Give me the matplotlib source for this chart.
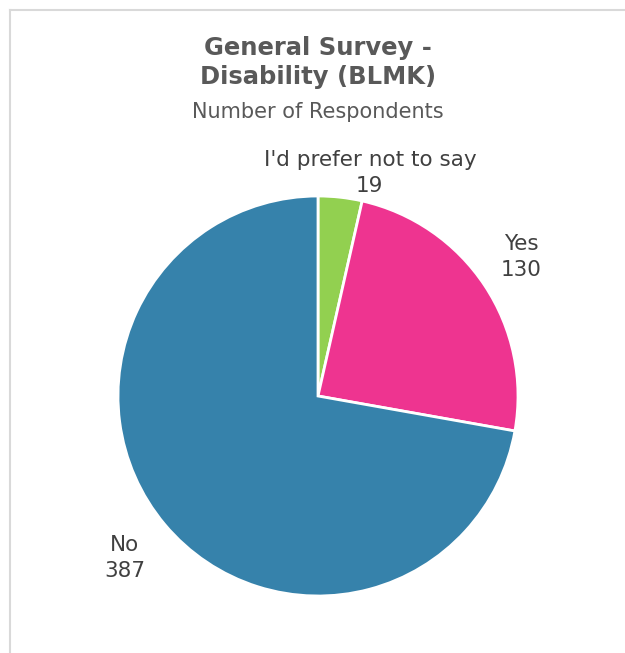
import matplotlib
matplotlib.use("Agg")
import matplotlib.pyplot as plt
import numpy as np

categories = ["I'd prefer not to say", "Yes", "No"]
values = [19, 130, 387]
colors = ["#92D050", "#EE3490", "#3682AB"]
label_dist = [1.145, 1.23, 1.26]
label_ang_offset = [-6.7, 0.8, 0.0]

plt.rcParams['font.family'] = ['DejaVu Sans']

W, H = 625, 653
fig = plt.figure(figsize=(W / 100, H / 100), dpi=100)
fig.patch.set_facecolor("white")

# frame lines (left and top)
fig.add_artist(plt.Line2D([9.5 / W, 9.5 / W], [0, 1 - 10 / H], color="#D9D9D9", lw=1.5))
fig.add_artist(plt.Line2D([9.5 / W, 1], [1 - 10 / H, 1 - 10 / H], color="#D9D9D9", lw=1.5))

cx, cy, r = 318, 396, 200
ax = fig.add_axes([(cx - r) / W, (H - cy - r) / H, 2 * r / W, 2 * r / H])
wedges, _ = ax.pie(values, colors=colors, startangle=90, counterclock=False,
                   radius=1.0, wedgeprops=dict(edgecolor="white", linewidth=2))
ax.set_xlim(-1, 1)
ax.set_ylim(-1, 1)
ax.set_aspect("equal")
ax.axis("off")

for w, cat, val, d, off in zip(wedges, categories, values, label_dist, label_ang_offset):
    ang = np.deg2rad((w.theta1 + w.theta2) / 2 + off)
    x, y = d * np.cos(ang), d * np.sin(ang)
    ax.text(x, y, f"{cat}\n{val}", ha="center", va="center", fontsize=15.5,
            color="#404040", linespacing=1.35)

fig.text(0.5088, 1 - 62.5 / H, "General Survey -\nDisability (BLMK)", ha="center", va="center",
         fontsize=17.5, fontweight="bold", color="#595959", linespacing=1.3)
fig.text(0.5088, 1 - 112 / H, "Number of Respondents", ha="center", va="center",
         fontsize=15, color="#595959")

fig.savefig("out.png", dpi=100, facecolor="white")
